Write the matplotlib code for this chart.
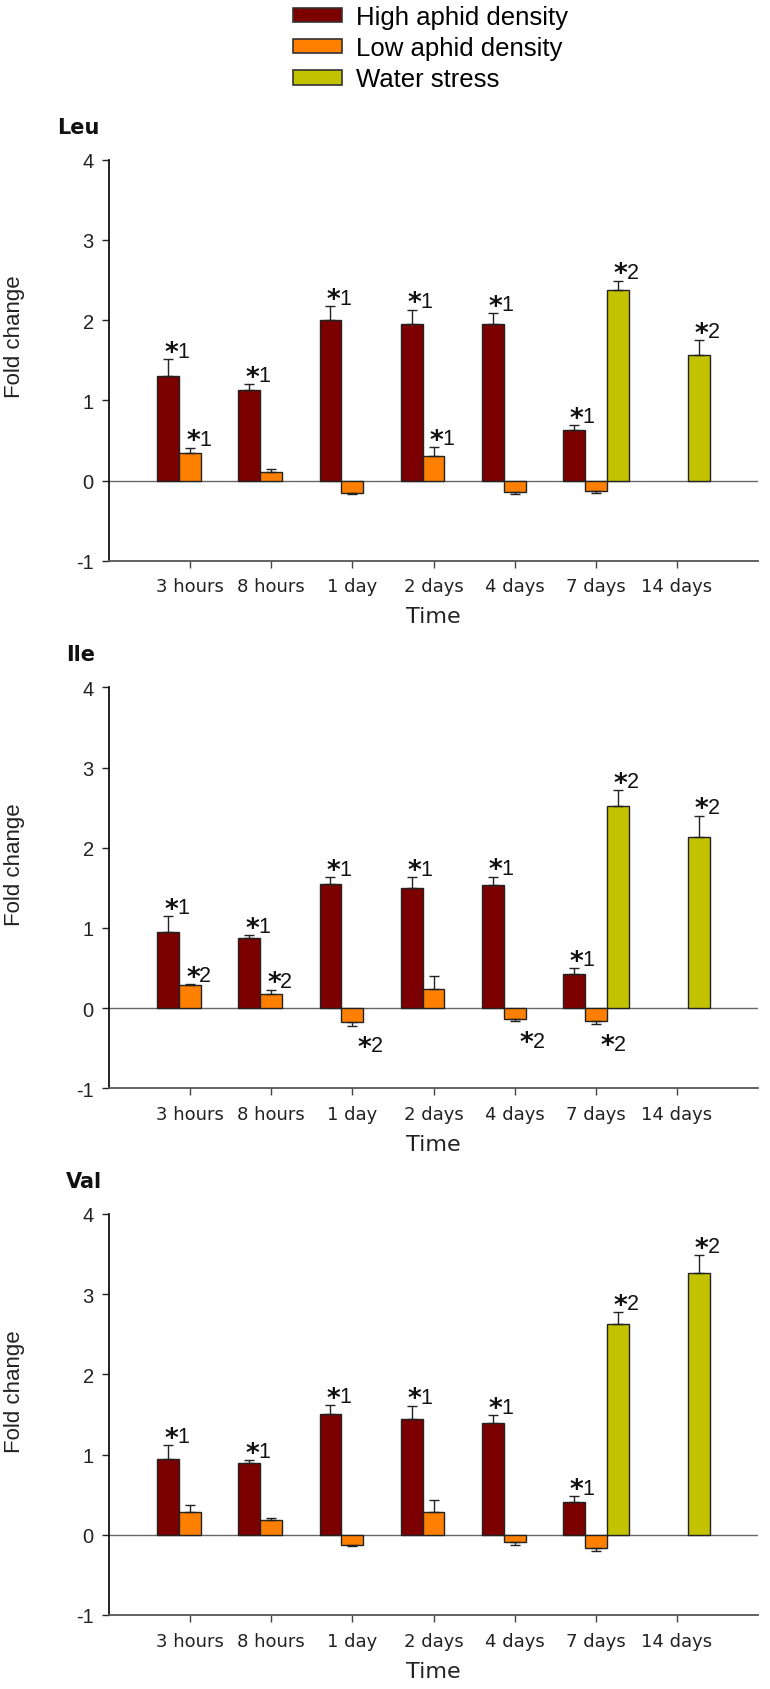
import matplotlib
matplotlib.use("Agg")
import matplotlib.pyplot as plt
import numpy as np
from matplotlib.patches import Patch

# ---------------- data ----------------
categories = ["3 hours", "8 hours", "1 day", "2 days", "4 days", "7 days", "14 days"]
series_names = ["High aphid density", "Low aphid density", "Water stress"]
panel_titles = ["Leu", "Ile", "Val"]

# Leu
leu_high = [1.30, 1.13, 2.00, 1.95, 1.95, 0.63, None]
leu_high_err = [0.21, 0.07, 0.17, 0.18, 0.14, 0.06, None]
leu_low = [0.34, 0.11, -0.15, 0.30, -0.14, -0.13, None]
leu_low_err = [0.07, 0.03, 0.02, 0.12, 0.03, 0.03, None]
leu_water = [None, None, None, None, None, 2.38, 1.57]
leu_water_err = [None, None, None, None, None, 0.11, 0.18]
leu_high_sig = ["1", "1", "1", "1", "1", "1", None]
leu_low_sig = ["1", None, None, "1", None, None, None]
leu_water_sig = [None, None, None, None, None, "2", "2"]

# Ile
ile_high = [0.95, 0.88, 1.55, 1.50, 1.54, 0.43, None]
ile_high_err = [0.20, 0.03, 0.08, 0.13, 0.10, 0.07, None]
ile_low = [0.29, 0.18, -0.17, 0.24, -0.13, -0.16, None]
ile_low_err = [0.01, 0.05, 0.05, 0.16, 0.03, 0.04, None]
ile_water = [None, None, None, None, None, 2.52, 2.13]
ile_water_err = [None, None, None, None, None, 0.20, 0.27]
ile_high_sig = ["1", "1", "1", "1", "1", "1", None]
ile_low_sig = ["2", "2", "2", None, "2", "2", None]
ile_water_sig = [None, None, None, None, None, "2", "2"]

# Val
val_high = [0.95, 0.89, 1.51, 1.44, 1.39, 0.41, None]
val_high_err = [0.17, 0.04, 0.11, 0.17, 0.10, 0.07, None]
val_low = [0.28, 0.18, -0.13, 0.29, -0.09, -0.16, None]
val_low_err = [0.09, 0.03, 0.01, 0.15, 0.04, 0.04, None]
val_water = [None, None, None, None, None, 2.63, 3.27]
val_water_err = [None, None, None, None, None, 0.15, 0.22]
val_high_sig = ["1", "1", "1", "1", "1", "1", None]
val_low_sig = [None, None, None, None, None, None, None]
val_water_sig = [None, None, None, None, None, "2", "2"]

yticks = [-1, 0, 1, 2, 3, 4]

# ---------------- style ----------------
colors = ["#7d0000", "#ff8000", "#c2c200"]
edge = "#222222"
sans = ["Liberation Sans", "DejaVu Sans"]
wide = ["DejaVu Sans"]

panels = [
    (leu_high, leu_high_err, leu_high_sig, leu_low, leu_low_err, leu_low_sig,
     leu_water, leu_water_err, leu_water_sig),
    (ile_high, ile_high_err, ile_high_sig, ile_low, ile_low_err, ile_low_sig,
     ile_water, ile_water_err, ile_water_sig),
    (val_high, val_high_err, val_high_sig, val_low, val_low_err, val_low_sig,
     val_water, val_water_err, val_water_sig),
]

W, H = 770, 1690
fig = plt.figure(figsize=(W / 100, H / 100), dpi=100)

ax_left = 109 / W
ax_width = 649 / W
ax_height = 401 / H
ax_bottoms_px = [561.7, 1089.3, 1616.0]
title_x = [-0.080, -0.066, -0.066]

bar_w = 0.27
offsets = [-bar_w, 0.0, bar_w]
x = np.arange(len(categories))


def sig_label(ax, xv, yv, digit, above):
    if above:
        dx, dy = 6.5, 2.0
    else:
        dx, dy = 13.0, -18.5
    # asterisk (larger, heavier) and digit share a baseline
    ax.annotate("*", xy=(xv, yv), xytext=(dx + 0.6, dy - 2.5), textcoords="offset points",
                ha="right", va="baseline", fontsize=19, fontweight="bold", family=wide,
                color="#111111")
    ax.annotate(digit, xy=(xv, yv), xytext=(dx, dy), textcoords="offset points",
                ha="left", va="baseline", fontsize=15.5, family=sans, color="#111111")


for p, data in enumerate(panels):
    ax = fig.add_axes([ax_left, 1 - ax_bottoms_px[p] / H, ax_width, ax_height])
    series = [(data[0], data[1], data[2]), (data[3], data[4], data[5]), (data[6], data[7], data[8])]
    ax.axhline(0, color="#666666", lw=1.0, zorder=1)
    for s, (vals, errs, sigs) in enumerate(series):
        idx = [i for i, v in enumerate(vals) if v is not None]
        xs = x[idx] + offsets[s]
        vs = np.array([vals[i] for i in idx], dtype=float)
        es = np.array([errs[i] for i in idx], dtype=float)
        ax.bar(xs, vs, width=bar_w, color=colors[s], edgecolor=edge, linewidth=1.0, zorder=2)
        lower = np.where(vs < 0, es, 0.0)
        upper = np.where(vs >= 0, es, 0.0)
        ax.errorbar(xs, vs, yerr=[lower, upper], fmt="none", ecolor="#222222",
                    elinewidth=1.0, capsize=3.5, capthick=1.0, zorder=3)
        for k, i in enumerate(idx):
            lab = sigs[i]
            if lab is None:
                continue
            if vs[k] >= 0:
                sig_label(ax, xs[k], vs[k] + es[k], lab, True)
            else:
                sig_label(ax, xs[k], vs[k] - es[k], lab, False)

    ax.set_xlim(-1, 7)
    ax.set_ylim(-1, 4)
    ax.set_yticks(yticks)
    ax.set_yticklabels([str(t) for t in yticks], fontsize=14.5, family=sans)
    ax.set_xticks(x)
    ax.set_xticklabels(categories, fontsize=13, family=wide, color="#222222")
    ax.tick_params(axis="y", direction="out", length=5, width=1, pad=6, colors="#222222")
    ax.tick_params(axis="x", direction="out", length=5, width=1, pad=7, colors="#444444",
                   labelcolor="#222222")
    for sp in ["top", "right"]:
        ax.spines[sp].set_visible(False)
    ax.spines["left"].set_color("#111111")
    ax.spines["left"].set_linewidth(1.3)
    ax.spines["bottom"].set_color("#555555")
    ax.spines["bottom"].set_linewidth(1.3)

    ax.set_ylabel("Fold change", fontsize=16, family=sans, color="#222222")
    ax.yaxis.set_label_coords(-0.129, 0.56)
    ax.set_xlabel("Time", fontsize=16, family=wide, color="#222222", labelpad=8)

    ax.text(title_x[p], 1.082, panel_titles[p], transform=ax.transAxes, fontsize=15,
            fontweight="bold", family=wide, ha="left", va="center", color="#111111")

handles = [Patch(facecolor=c, edgecolor="#333333", linewidth=1.2) for c in colors]
fig.legend(handles, series_names, loc="upper left",
           bbox_to_anchor=(293 / W, 1 - 6 / H), frameon=False,
           prop=dict(family=sans, size=18.5), handlelength=1.9, handleheight=0.5,
           handletextpad=0.55, labelspacing=0.28, borderpad=0, borderaxespad=0)

fig.savefig("out.png", dpi=100)
